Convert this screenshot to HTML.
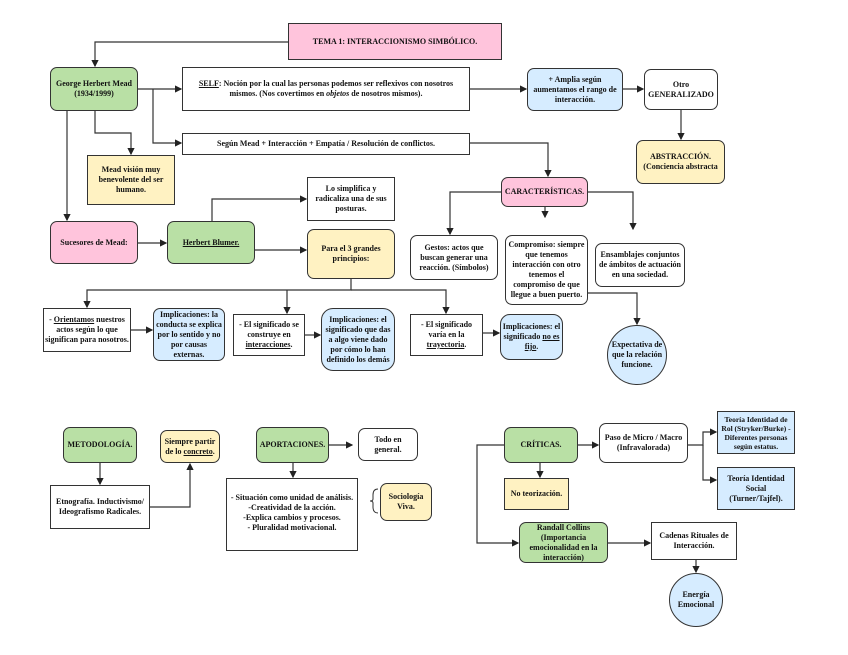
<!DOCTYPE html>
<html><head><meta charset="utf-8"><style>
body{margin:0;width:848px;height:655px;background:#fff;position:relative;overflow:hidden;font-family:"Liberation Serif",serif;}
.b{position:absolute;box-sizing:border-box;border:1.3px solid #333;display:flex;align-items:center;justify-content:center;text-align:center;font-size:8px;font-weight:bold;line-height:10px;color:#111;padding:1px;}
.r{border-radius:7px}
.g{background:#b9e0a5}.p{background:#ffc4dc}.y{background:#fff2c2}.bl{background:#d6ecff}.w{background:#fff}
.c{border-radius:50%}
svg{position:absolute;left:0;top:0}
</style></head><body>
<svg width="848" height="655"><defs><marker id="a" markerWidth="6" markerHeight="6" refX="5" refY="3" orient="auto"><path d="M0,0L6,3L0,6z" fill="#222"/></marker></defs>
<g stroke="#333" stroke-width="1.2" fill="none" marker-end="url(#a)">
<path d="M288,42H95V66"/>
<path d="M138,89H181"/>
<path d="M153,89V143H181"/>
<path d="M95,111V133H131V154"/>
<path d="M67,111V220"/>
<path d="M138,243H166"/>
<path d="M212,221V199H306"/>
<path d="M255,250H306"/>
<path d="M351,279V290H87V307"/>
<path d="M287,290V313"/>
<path d="M351,290H446V313"/>
<path d="M131,330H152"/>
<path d="M305,335H320"/>
<path d="M483,333H499"/>
<path d="M470,89H526"/>
<path d="M623,89H643"/>
<path d="M681,110V139"/>
<path d="M470,143H548V176"/>
<path d="M501,192H450V234"/>
<path d="M545,207V217"/>
<path d="M588,192H633V229"/>
<path d="M588,293H637V324"/>
<path d="M100,463V484"/>
<path d="M150,507H190V464"/>
<path d="M329,445H352"/>
<path d="M293,463V477"/>
<path d="M578,445H598"/>
<path d="M688,445H703V432H716"/>
<path d="M703,445V480H716"/>
<path d="M540,463V477"/>
<path d="M504,445H477V543H518"/>
<path d="M608,543H650"/>
<path d="M696,560V572"/>
</g>
<path d="M378,489q-5,0-5,6v4q0,2-3,2q3,0,3,2v4q0,6,5,6" stroke="#333" fill="none" stroke-width="1"/>
</svg>
<div class="b p" style="left:288px;top:23px;width:214px;height:37px">TEMA 1: INTERACCIONISMO SIMBÓLICO.</div>
<div class="b g r" style="left:50px;top:67px;width:88px;height:44px">George Herbert Mead (1934/1999)</div>
<div class="b w" style="left:182px;top:67px;width:288px;height:44px"><span><u>SELF</u>: Noción por la cual las personas podemos ser reflexivos con nosotros mismos. (Nos covertimos en <i>objetos</i> de nosotros mismos).</span></div>
<div class="b bl r" style="left:527px;top:68px;width:96px;height:43px">+ Amplia según aumentamos el rango de interacción.</div>
<div class="b w r" style="left:644px;top:69px;width:74px;height:41px">Otro GENERALIZADO</div>
<div class="b y r" style="left:636px;top:140px;width:89px;height:44px">ABSTRACCIÓN. (Conciencia abstracta</div>
<div class="b w" style="left:182px;top:133px;width:288px;height:22px">Según Mead + Interacción + Empatía / Resolución de conflictos.</div>
<div class="b y" style="left:87px;top:155px;width:88px;height:50px">Mead visión muy benevolente del ser humano.</div>
<div class="b w" style="left:307px;top:177px;width:88px;height:44px">Lo simplifica y radicaliza una de sus posturas.</div>
<div class="b p r" style="left:501px;top:177px;width:87px;height:30px">CARACTERÍSTICAS.</div>
<div class="b p r" style="left:50px;top:221px;width:88px;height:43px">Sucesores de Mead:</div>
<div class="b g r" style="left:167px;top:221px;width:88px;height:43px"><u>Herbert Blumer.</u></div>
<div class="b y r" style="left:307px;top:229px;width:88px;height:50px">Para el 3 grandes principios:</div>
<div class="b w r" style="left:410px;top:235px;width:88px;height:45px">Gestos: actos que buscan generar una reacción. (Símbolos)</div>
<div class="b w r" style="left:505px;top:235px;width:83px;height:70px">Compromiso: siempre que tenemos interacción con otro tenemos el compromiso de que llegue a buen puerto.</div>
<div class="b w r" style="left:595px;top:243px;width:90px;height:44px">Ensamblajes conjuntos de ámbitos de actuación en una sociedad.</div>
<div class="b w" style="left:43px;top:308px;width:88px;height:44px"><span>- <u>Orientamos</u> nuestros actos según lo que significan para nosotros.</span></div>
<div class="b bl r" style="left:153px;top:308px;width:72px;height:53px">Implicaciones: la conducta se explica por lo sentido y no por causas externas.</div>
<div class="b w" style="left:233px;top:314px;width:72px;height:42px"><span>- El significado se construye en <u>interacciones</u>.</span></div>
<div class="b bl r" style="left:321px;top:308px;width:74px;height:63px;border-radius:12px">Implicaciones: el significado que das a algo viene dado por cómo lo han definido los demás</div>
<div class="b w" style="left:410px;top:314px;width:73px;height:42px"><span>- El significado varía en la <u>trayectoria</u>.</span></div>
<div class="b bl r" style="left:500px;top:314px;width:63px;height:46px;border-radius:10px"><span>Implicaciones: el significado <u>no es fijo</u>.</span></div>
<div class="b bl c" style="left:607px;top:325px;width:60px;height:60px">Expectativa de que la relación funcione.</div>
<div class="b g r" style="left:63px;top:427px;width:74px;height:36px">METODOLOGÍA.</div>
<div class="b y r" style="left:160px;top:430px;width:60px;height:33px"><span>Siempre partir de lo <u>concreto</u>.</span></div>
<div class="b w" style="left:50px;top:485px;width:100px;height:44px">Etnografía. Inductivismo/ Ideografismo Radicales.</div>
<div class="b g r" style="left:256px;top:427px;width:73px;height:36px">APORTACIONES.</div>
<div class="b w r" style="left:358px;top:428px;width:60px;height:33px">Todo en general.</div>
<div class="b w" style="left:226px;top:478px;width:132px;height:73px;align-items:flex-start;padding-top:14px">- Situación como unidad de análisis.<br>-Creatividad de la acción.<br>-Explica cambios y procesos.<br>- Pluralidad motivacional.</div>
<div class="b y r" style="left:380px;top:483px;width:52px;height:38px">Sociología Viva.</div>
<div class="b g r" style="left:504px;top:427px;width:74px;height:36px">CRÍTICAS.</div>
<div class="b w r" style="left:599px;top:423px;width:89px;height:40px">Paso de Micro / Macro (Infravalorada)</div>
<div class="b bl" style="left:717px;top:411px;width:78px;height:43px;font-size:7.5px;line-height:9px">Teoría Identidad de Rol (Stryker/Burke) -Diferentes personas según estatus.</div>
<div class="b bl" style="left:717px;top:467px;width:78px;height:43px">Teoría Identidad Social (Turner/Tajfel).</div>
<div class="b y" style="left:504px;top:478px;width:65px;height:32px">No teorización.</div>
<div class="b g r" style="left:519px;top:522px;width:89px;height:41px">Randall Collins (Importancia emocionalidad en la interacción)</div>
<div class="b w" style="left:651px;top:522px;width:86px;height:38px">Cadenas Rituales de Interacción.</div>
<div class="b bl c" style="left:669px;top:573px;width:54px;height:54px">Energía Emocional</div>
</body></html>
